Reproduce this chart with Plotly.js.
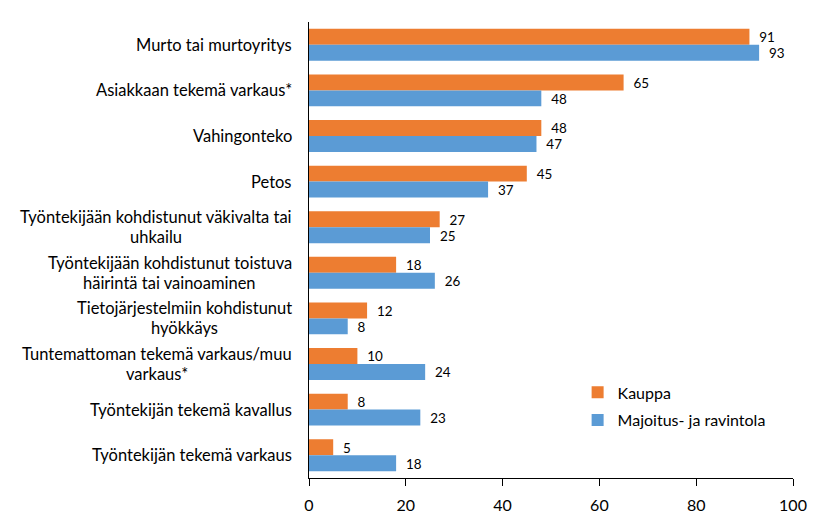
<!DOCTYPE html>
<html>
<head>
<meta charset="utf-8">
<script src="https://cdn.plot.ly/plotly-3.0.1.min.js"></script>
<style>html,body{margin:0;padding:0;background:#fff}</style>
</head>
<body>
<div id="chart" style="width:820px;height:525px"></div>
<script>
const categories = [
  "Murto tai murtoyritys",
  "Asiakkaan tekemä varkaus*",
  "Vahingonteko",
  "Petos",
  "Työntekijään kohdistunut väkivalta tai<br>uhkailu",
  "Työntekijään kohdistunut toistuva<br>häirintä tai vainoaminen",
  "Tietojärjestelmiin kohdistunut<br>hyökkäys",
  "Tuntemattoman tekemä varkaus/muu<br>varkaus*",
  "Työntekijän tekemä kavallus",
  "Työntekijän tekemä varkaus"
];
const kauppa = [91, 65, 48, 45, 27, 18, 12, 10, 8, 5];
const majoitus = [93, 48, 47, 37, 25, 26, 8, 24, 23, 18];
const seriesNames = ["Kauppa", "Majoitus- ja ravintola"];
const xTicks = [0, 20, 40, 60, 80, 100];

const FONT = "Lato, 'Open Sans', sans-serif";
const LSIZE = 16.5;
const catIds = categories.map((c, i) => "c" + i);

const traces = [
  {type: "bar", orientation: "h", name: seriesNames[0], legendgroup: "a", y: catIds, x: kauppa,
   marker: {color: "#ED7D31"}, text: kauppa.map(v => "\u00a0\u00a0" + v),
   textposition: "outside", cliponaxis: false,
   textfont: {family: FONT, size: 16, color: "#000"}, hoverinfo: "x"},
  {type: "bar", orientation: "h", name: seriesNames[1], legendgroup: "b", y: catIds, x: majoitus,
   marker: {color: "#5B9BD5"}, text: majoitus.map(v => "\u00a0\u00a0" + v),
   textposition: "outside", cliponaxis: false,
   textfont: {family: FONT, size: 16, color: "#000"}, hoverinfo: "x"}
];

// category labels: each line centred on the widest line, block right-aligned next to the axis
const ctx = document.createElement("canvas").getContext("2d");
ctx.font = LSIZE + "px Lato";
const annotations = [];
categories.forEach((c, i) => {
  const lines = c.split("<br>");
  const maxw = Math.max(...lines.map(l => ctx.measureText(l).width));
  lines.forEach((l, j) => {
    annotations.push({
      x: 0, xref: "paper", y: catIds[i], yref: "y",
      text: l, showarrow: false, xanchor: "center", yanchor: "middle",
      xshift: -17 - maxw / 2, yshift: ((lines.length - 1) / 2 - j) * 20,
      font: {family: FONT, size: LSIZE, color: "#000"}
    });
  });
});

const layout = {
  width: 820, height: 525,
  margin: {l: 309, r: 27, t: 22, b: 47},
  paper_bgcolor: "#fff", plot_bgcolor: "#fff",
  barmode: "group", bargap: 0.3, bargroupgap: 0,
  font: {family: FONT, size: 16, color: "#000"},
  xaxis: {range: [0, 100], tickvals: xTicks, ticktext: xTicks.map(String),
    showgrid: false, zeroline: false, showline: true, linecolor: "#000", linewidth: 1,
    ticks: "outside", ticklen: 7, tickcolor: "#000", ticklabelstandoff: 6,
    tickfont: {family: FONT, size: 16, color: "#000"}, fixedrange: true},
  yaxis: {type: "category", autorange: "reversed", showticklabels: false,
    showgrid: false, zeroline: false, showline: true, linecolor: "#000", linewidth: 1,
    ticks: "", fixedrange: true},
  showlegend: true,
  legend: {x: 0.555, y: 0.225, xanchor: "left", yanchor: "top", traceorder: "grouped",
    font: {family: FONT, size: 16, color: "#000"}, bgcolor: "rgba(0,0,0,0)",
    itemwidth: 30, tracegroupgap: 4},
  annotations: annotations
};

Plotly.newPlot("chart", traces, layout, {displayModeBar: false, staticPlot: true});
</script>
</body>
</html>
